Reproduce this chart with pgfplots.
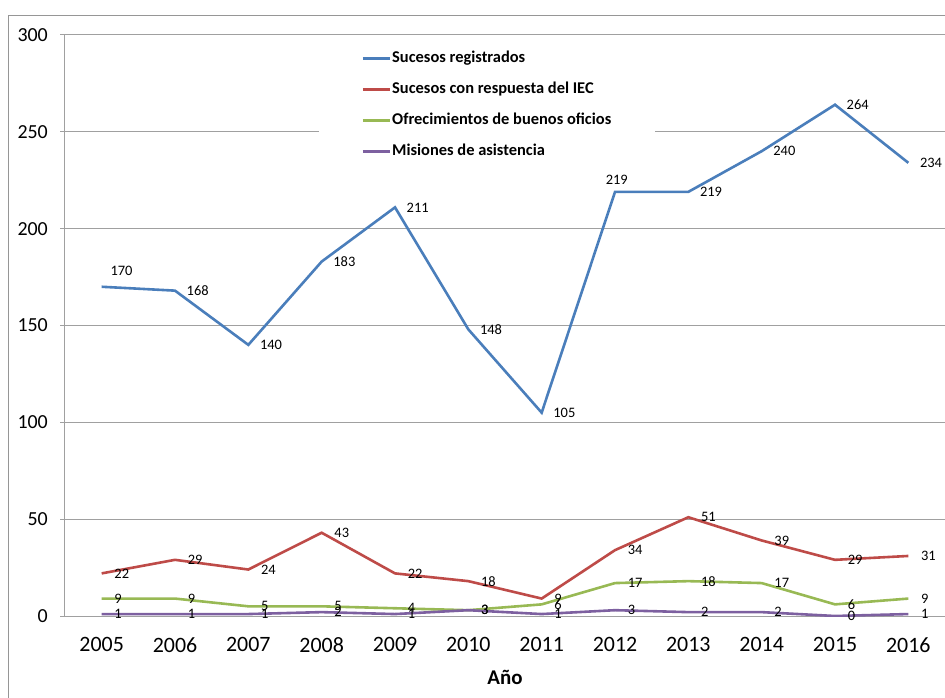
\documentclass[border=0pt]{standalone}
\usepackage{pgfplots}
\pgfplotsset{compat=1.18}
\usepackage{pgfplotstable}
\usepackage{fontspec}
\setmainfont{Carlito}
\definecolor{cBlue}{RGB}{74,126,187}
\definecolor{cRed}{RGB}{190,75,72}
\definecolor{cGreen}{RGB}{152,185,84}
\definecolor{cPurple}{RGB}{125,96,160}
\definecolor{cGrid}{RGB}{160,160,160}
\definecolor{cFrame}{RGB}{150,150,150}

\pgfplotstableread{
x y
0 170
1 168
2 140
3 183
4 211
5 148
6 105
7 219
8 219
9 240
10 264
11 234
}\tblBlue
\pgfplotstableread{
x y
0 22
1 29
2 24
3 43
4 22
5 18
6 9
7 34
8 51
9 39
10 29
11 31
}\tblRed
\pgfplotstableread{
x y
0 9
1 9
2 5
3 5
4 4
5 3
6 6
7 17
8 18
9 17
10 6
11 9
}\tblGreen
\pgfplotstableread{
x y
0 1
1 1
2 1
3 2
4 1
5 3
6 1
7 3
8 2
9 2
10 0
11 1
}\tblPurple

\begin{document}
\begin{tikzpicture}
\useasboundingbox (-65bp,-82bp) rectangle (880bp,616bp);
\draw[cFrame, line width=1bp] (-56bp,-100bp) -- (-56bp,600bp) -- (900bp,600bp);
\begin{axis}[
  at={(0,0)}, anchor=south west,
  scale only axis, width=880bp, height=581bp,
  xmin=-0.5, xmax=11.5, ymin=0, ymax=300,
  axis x line*=bottom, axis y line*=left,
  axis line style={cGrid, line width=1bp},
  ymajorgrids, grid style={cGrid, line width=1bp},
  ytick={0,50,...,300},
  xtick={0,...,11},
  xticklabels={2005,2006,2007,2008,2009,2010,2011,2012,2013,2014,2015,2016},
  xtick style={draw=none},
  ytick style={cGrid, line width=1bp},
  tick align=outside, major tick length=5bp,
  /pgf/number format/assume math mode=true,
  xticklabel style={font=\fontsize{22}{26}\selectfont, inner sep=0pt, anchor=north, yshift=-16bp},
  yticklabel style={font=\fontsize{20}{24}\selectfont, inner sep=0pt, anchor=east, xshift=-12bp},
  xlabel={\textbf{Año}},
  xlabel style={at={(axis description cs:0.5,0)}, anchor=center, yshift=-61bp, font=\fontsize{21}{25}\selectfont},
  legend style={at={(rel axis cs:0.4795,0.880)}, anchor=center, draw=none, fill=white,
    font=\fontsize{16.5}{19}\selectfont\bfseries, inner xsep=43bp, inner ysep=8bp, row sep=15bp,
    nodes={inner xsep=1bp, inner ysep=0bp, text height=12bp, text depth=4bp},
    cells={anchor=west}},
  legend image code/.code={\draw[#1] (0bp,0bp) -- (27bp,0bp);},
  lbl/.style={nodes near coords,
    nodes near coords style={font=\fontsize{14.5}{16}\selectfont, text=black, anchor=west, inner sep=0pt, xshift=11.5bp}},
]
\addplot[cBlue, line width=2.6bp] table[x=x,y=y] {\tblBlue};
\addlegendentry{Sucesos registrados}
\addplot[cRed, line width=2.6bp, lbl] table[x=x,y=y] {\tblRed};
\addlegendentry{Sucesos con respuesta del IEC}
\addplot[cGreen, line width=2.6bp, lbl] table[x=x,y=y] {\tblGreen};
\addlegendentry{Ofrecimientos de buenos oficios}
\addplot[cPurple, line width=2.6bp, lbl] table[x=x,y=y] {\tblPurple};
\addlegendentry{Misiones de asistencia}
% blue data labels
\addplot[draw=none, forget plot, lbl] coordinates {(1,168) (2,140) (3,183) (4,211) (5,148) (6,105) (8,219) (9,240) (10,264) (11,234)};
\addplot[draw=none, forget plot, nodes near coords,
  nodes near coords style={font=\fontsize{14.5}{16}\selectfont, text=black, anchor=west, inner sep=0pt, xshift=8.7bp, yshift=16bp}]
  coordinates {(0,170)};
\addplot[draw=none, forget plot, nodes near coords,
  nodes near coords style={font=\fontsize{14.5}{16}\selectfont, text=black, anchor=west, inner sep=0pt, xshift=-9.4bp, yshift=12bp}]
  coordinates {(7,219)};
\end{axis}
\end{tikzpicture}
\end{document}
